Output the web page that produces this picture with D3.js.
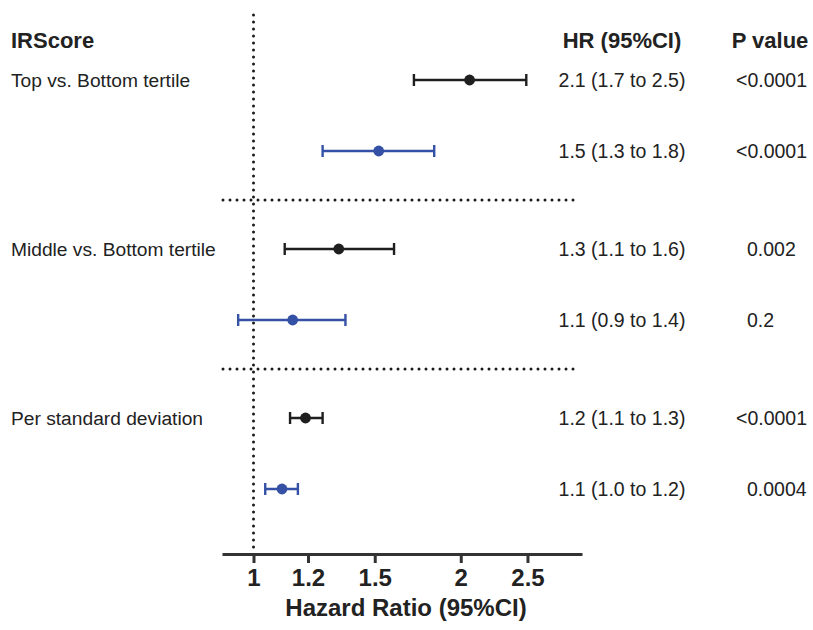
<!DOCTYPE html>
<html>
<head>
<meta charset="utf-8">
<script src="https://cdn.jsdelivr.net/npm/d3@7"></script>
<style>
  body { margin: 0; background: #fff; }
  svg { font-family: "Liberation Sans", Arial, sans-serif; }
</style>
</head>
<body>
<svg id="forest" width="813" height="630"></svg>
<script>
// rows: two models per comparison (black first, blue second)
const groups = ["Top vs. Bottom tertile", "Middle vs. Bottom tertile", "Per standard deviation"];
const models = ["model1", "model2"];
const hr    = [2.06, 1.52, 1.33, 1.14, 1.19, 1.10];
const lower = [1.71, 1.26, 1.11, 0.95, 1.13, 1.04];
const upper = [2.49, 1.83, 1.60, 1.36, 1.26, 1.16];
const hrText = ["2.1 (1.7 to 2.5)", "1.5 (1.3 to 1.8)", "1.3 (1.1 to 1.6)",
                "1.1 (0.9 to 1.4)", "1.2 (1.1 to 1.3)", "1.1 (1.0 to 1.2)"];
const pText = ["<0.0001", "<0.0001", "0.002", "0.2", "<0.0001", "0.0004"];
const xTicks = [1, 1.2, 1.5, 2, 2.5];

const colors = {model1: "#1f1f1f", model2: "#3451a6"};

let rows = hr.map((d, i) => ({
    group: groups[Math.floor(i / 2)],
    model: models[i % 2],
    hr: d, lo: lower[i], hi: upper[i],
    hrText: hrText[i], p: pText[i]
}));

let svg = d3.select("#forest");

let xScale = d3.scaleLog().domain([0.9, 3]).range([222, 582]);

let yGroup = d3.scaleBand().domain(groups).range([31, 538]);
let yModel = d3.scalePoint().domain(models).range([0, yGroup.bandwidth()]).padding(0.69);
let yPos = d => yGroup(d.group) + yModel(d.model);

// reference line at HR = 1
svg.append("line")
    .attr("x1", xScale(1)).attr("x2", xScale(1))
    .attr("y1", 15).attr("y2", 550)
    .attr("stroke", "#1a1a1a")
    .attr("stroke-width", 3)
    .attr("stroke-linecap", "round")
    .attr("stroke-dasharray", "0 7");

// separators between comparisons
svg.selectAll(".sep")
    .data(groups.slice(1))
    .enter().append("line")
    .attr("class", "sep")
    .attr("x1", 223).attr("x2", 577)
    .attr("y1", d => yGroup(d)).attr("y2", d => yGroup(d))
    .attr("stroke", "#1a1a1a")
    .attr("stroke-width", 3)
    .attr("stroke-linecap", "round")
    .attr("stroke-dasharray", "0 7");

// x axis
let xAxis = svg.append("g")
    .attr("transform", "translate(0,554)")
    .call(d3.axisBottom(xScale).tickValues(xTicks).tickFormat(d3.format("")).tickSize(9).tickSizeOuter(0).tickPadding(6));
xAxis.select(".domain").attr("stroke", "#333").attr("stroke-width", 3.2);
xAxis.selectAll(".tick line").attr("stroke", "#333").attr("stroke-width", 3);
xAxis.selectAll(".tick text")
    .attr("fill", "#222")
    .style("font-family", "'Liberation Sans', Arial, sans-serif")
    .style("font-size", "24px")
    .style("font-weight", "bold");

svg.append("text")
    .attr("x", 406).attr("y", 616)
    .attr("text-anchor", "middle")
    .attr("fill", "#222")
    .style("font-size", "24px")
    .style("font-weight", "bold")
    .text("Hazard Ratio (95%CI)");

// headers
let headers = [["IRScore", 11, "start"], ["HR (95%CI)", 622, "middle"], ["P value", 770, "middle"]];
svg.selectAll(".hdr")
    .data(headers)
    .enter().append("text")
    .attr("class", "hdr")
    .attr("x", d => d[1]).attr("y", 48)
    .attr("text-anchor", d => d[2])
    .attr("fill", "#222")
    .style("font-size", "22px")
    .style("font-weight", "bold")
    .text(d => d[0]);

// row labels (first model of each comparison)
svg.selectAll(".lbl")
    .data(rows.filter(d => d.model == "model1"))
    .enter().append("text")
    .attr("class", "lbl")
    .attr("x", 11).attr("y", yPos).attr("dy", "0.35em")
    .attr("fill", "#222")
    .style("font-size", "19.2px")
    .text(d => d.group);

// whiskers
let ci = svg.selectAll(".ci")
    .data(rows)
    .enter().append("g")
    .attr("class", "ci")
    .attr("stroke", d => colors[d.model])
    .attr("fill", d => colors[d.model])
    .attr("stroke-width", 2.4);

ci.append("line")
    .attr("x1", d => xScale(d.lo)).attr("x2", d => xScale(d.hi))
    .attr("y1", yPos).attr("y2", yPos);
ci.append("line")
    .attr("x1", d => xScale(d.lo)).attr("x2", d => xScale(d.lo))
    .attr("y1", d => yPos(d) - 6).attr("y2", d => yPos(d) + 6);
ci.append("line")
    .attr("x1", d => xScale(d.hi)).attr("x2", d => xScale(d.hi))
    .attr("y1", d => yPos(d) - 6).attr("y2", d => yPos(d) + 6);
ci.append("circle")
    .attr("cx", d => xScale(d.hr)).attr("cy", yPos)
    .attr("r", 5.4)
    .attr("stroke", "none");

// HR and p value columns
svg.selectAll(".hrt")
    .data(rows)
    .enter().append("text")
    .attr("class", "hrt")
    .attr("x", 622).attr("y", yPos).attr("dy", "0.35em")
    .attr("text-anchor", "middle")
    .attr("fill", "#222")
    .style("font-size", "19.5px")
    .text(d => d.hrText);

let pv = svg.selectAll(".pv")
    .data(rows)
    .enter().append("text")
    .attr("class", "pv")
    .attr("x", 747).attr("y", yPos).attr("dy", "0.35em")
    .attr("fill", "#222")
    .style("font-size", "19.5px");
pv.append("tspan")
    .attr("dx", d => d.p.startsWith("<") ? -11 : 0)
    .text(d => d.p);
</script>
</body>
</html>
